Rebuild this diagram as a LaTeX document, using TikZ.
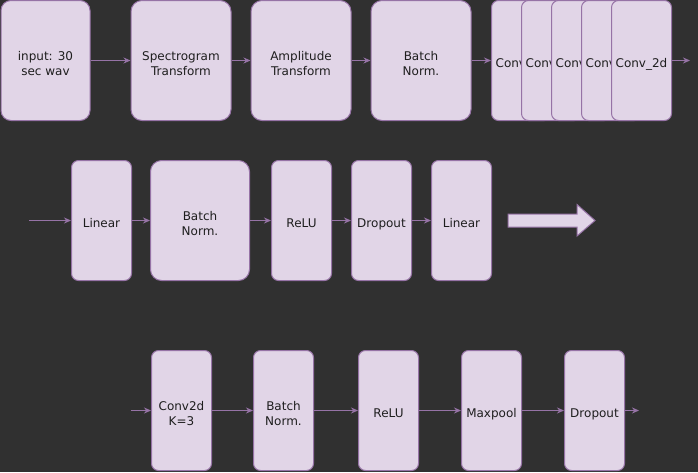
\documentclass[tikz,border=0pt]{standalone}
\usepackage{fontspec}
\setmainfont{DejaVu Sans}
\usetikzlibrary{arrows.meta}
\definecolor{bg}{HTML}{303030}
\definecolor{boxfill}{HTML}{E1D5E7}
\definecolor{boxline}{HTML}{9673A6}
\definecolor{txt}{HTML}{1E1E1E}
\newcommand\boxtxt[1]{\raisebox{-4.5pt}[\height][\depth]{\begin{tabular}{@{}c@{}}#1\end{tabular}}}
\tikzset{
  blk/.style={draw=boxline, fill=boxfill, line width=1pt, rounded corners=#1,
    minimum height=120pt, inner sep=0pt, text=txt,
    font=\fontsize{12}{14.6}\selectfont},
  blk/.default=7pt,
  narrow/.style={blk, minimum width=60pt},
  wide/.style={blk=11pt, minimum width=100pt},
  conn/.style={draw=boxline, line width=1pt, -{Stealth[length=7pt,width=6pt]}},
}
\begin{document}
\begin{tikzpicture}[x=1pt,y=-1pt]
\fill[bg] (0,0) rectangle (698,472);
\useasboundingbox (0,0) rectangle (698,472);
% row 1
\node[blk=10pt, minimum width=89pt] (in) at (45.5,60.5) {\boxtxt{input: 30\\sec wav}};
\node[wide] (spec) at (181,60.5) {\boxtxt{Spectrogram\\Transform}};
\node[wide] (amp) at (301,60.5) {\boxtxt{Amplitude\\Transform}};
\node[wide] (bn1) at (421,60.5) {\boxtxt{Batch\\Norm.}};
\node[narrow] (c1) at (521.5,60.5) {\boxtxt{Conv\_2d}};
\node[narrow] (c2) at (551.5,60.5) {\boxtxt{Conv\_2d}};
\node[narrow] (c3) at (581.5,60.5) {\boxtxt{Conv\_2d}};
\node[narrow] (c4) at (611.5,60.5) {\boxtxt{Conv\_2d}};
\node[narrow] (c5) at (641.5,60.5) {\boxtxt{Conv\_2d}};
\coordinate (o1) at (690,60.5);
\draw[conn] (in) -- (spec);
\draw[conn] (spec) -- (amp);
\draw[conn] (amp) -- (bn1);
\draw[conn] (bn1) -- (c1);
\draw[conn] (c5) -- (o1);
% row 2
\coordinate (s2) at (29,220.5);
\node[narrow] (lin1) at (101.5,220.5) {\boxtxt{Linear}};
\node[wide, minimum width=99pt] (bn2) at (200,220.5) {\boxtxt{Batch\\Norm.}};
\node[narrow] (relu2) at (301.5,220.5) {\boxtxt{ReLU}};
\node[narrow] (drop2) at (381.5,220.5) {\boxtxt{Dropout}};
\node[narrow] (lin2) at (461.5,220.5) {\boxtxt{Linear}};
\draw[conn] (s2) -- (lin1);
\draw[conn] (lin1) -- (bn2);
\draw[conn] (bn2) -- (relu2);
\draw[conn] (relu2) -- (drop2);
\draw[conn] (drop2) -- (lin2);
\draw[draw=boxline, fill=boxfill, line width=1pt]
  (508,214) -- (577,214) -- (577,204.5) -- (595,220.5) -- (577,236)
  -- (577,227) -- (508,227) -- cycle;
% row 3
\coordinate (s3) at (131,410.5);
\node[narrow] (cv) at (181.5,410.5) {\boxtxt{Conv2d\\K=3}};
\node[narrow] (bn3) at (283.5,410.5) {\boxtxt{Batch\\Norm.}};
\node[narrow] (relu3) at (388.5,410.5) {\boxtxt{ReLU}};
\node[narrow] (mp) at (491.5,410.5) {\boxtxt{Maxpool}};
\node[narrow] (drop3) at (594.5,410.5) {\boxtxt{Dropout}};
\coordinate (o3) at (639,410.5);
\draw[conn] (s3) -- (cv);
\draw[conn] (cv) -- (bn3);
\draw[conn] (bn3) -- (relu3);
\draw[conn] (relu3) -- (mp);
\draw[conn] (mp) -- (drop3);
\draw[conn] (drop3) -- (o3);
\end{tikzpicture}
\end{document}
